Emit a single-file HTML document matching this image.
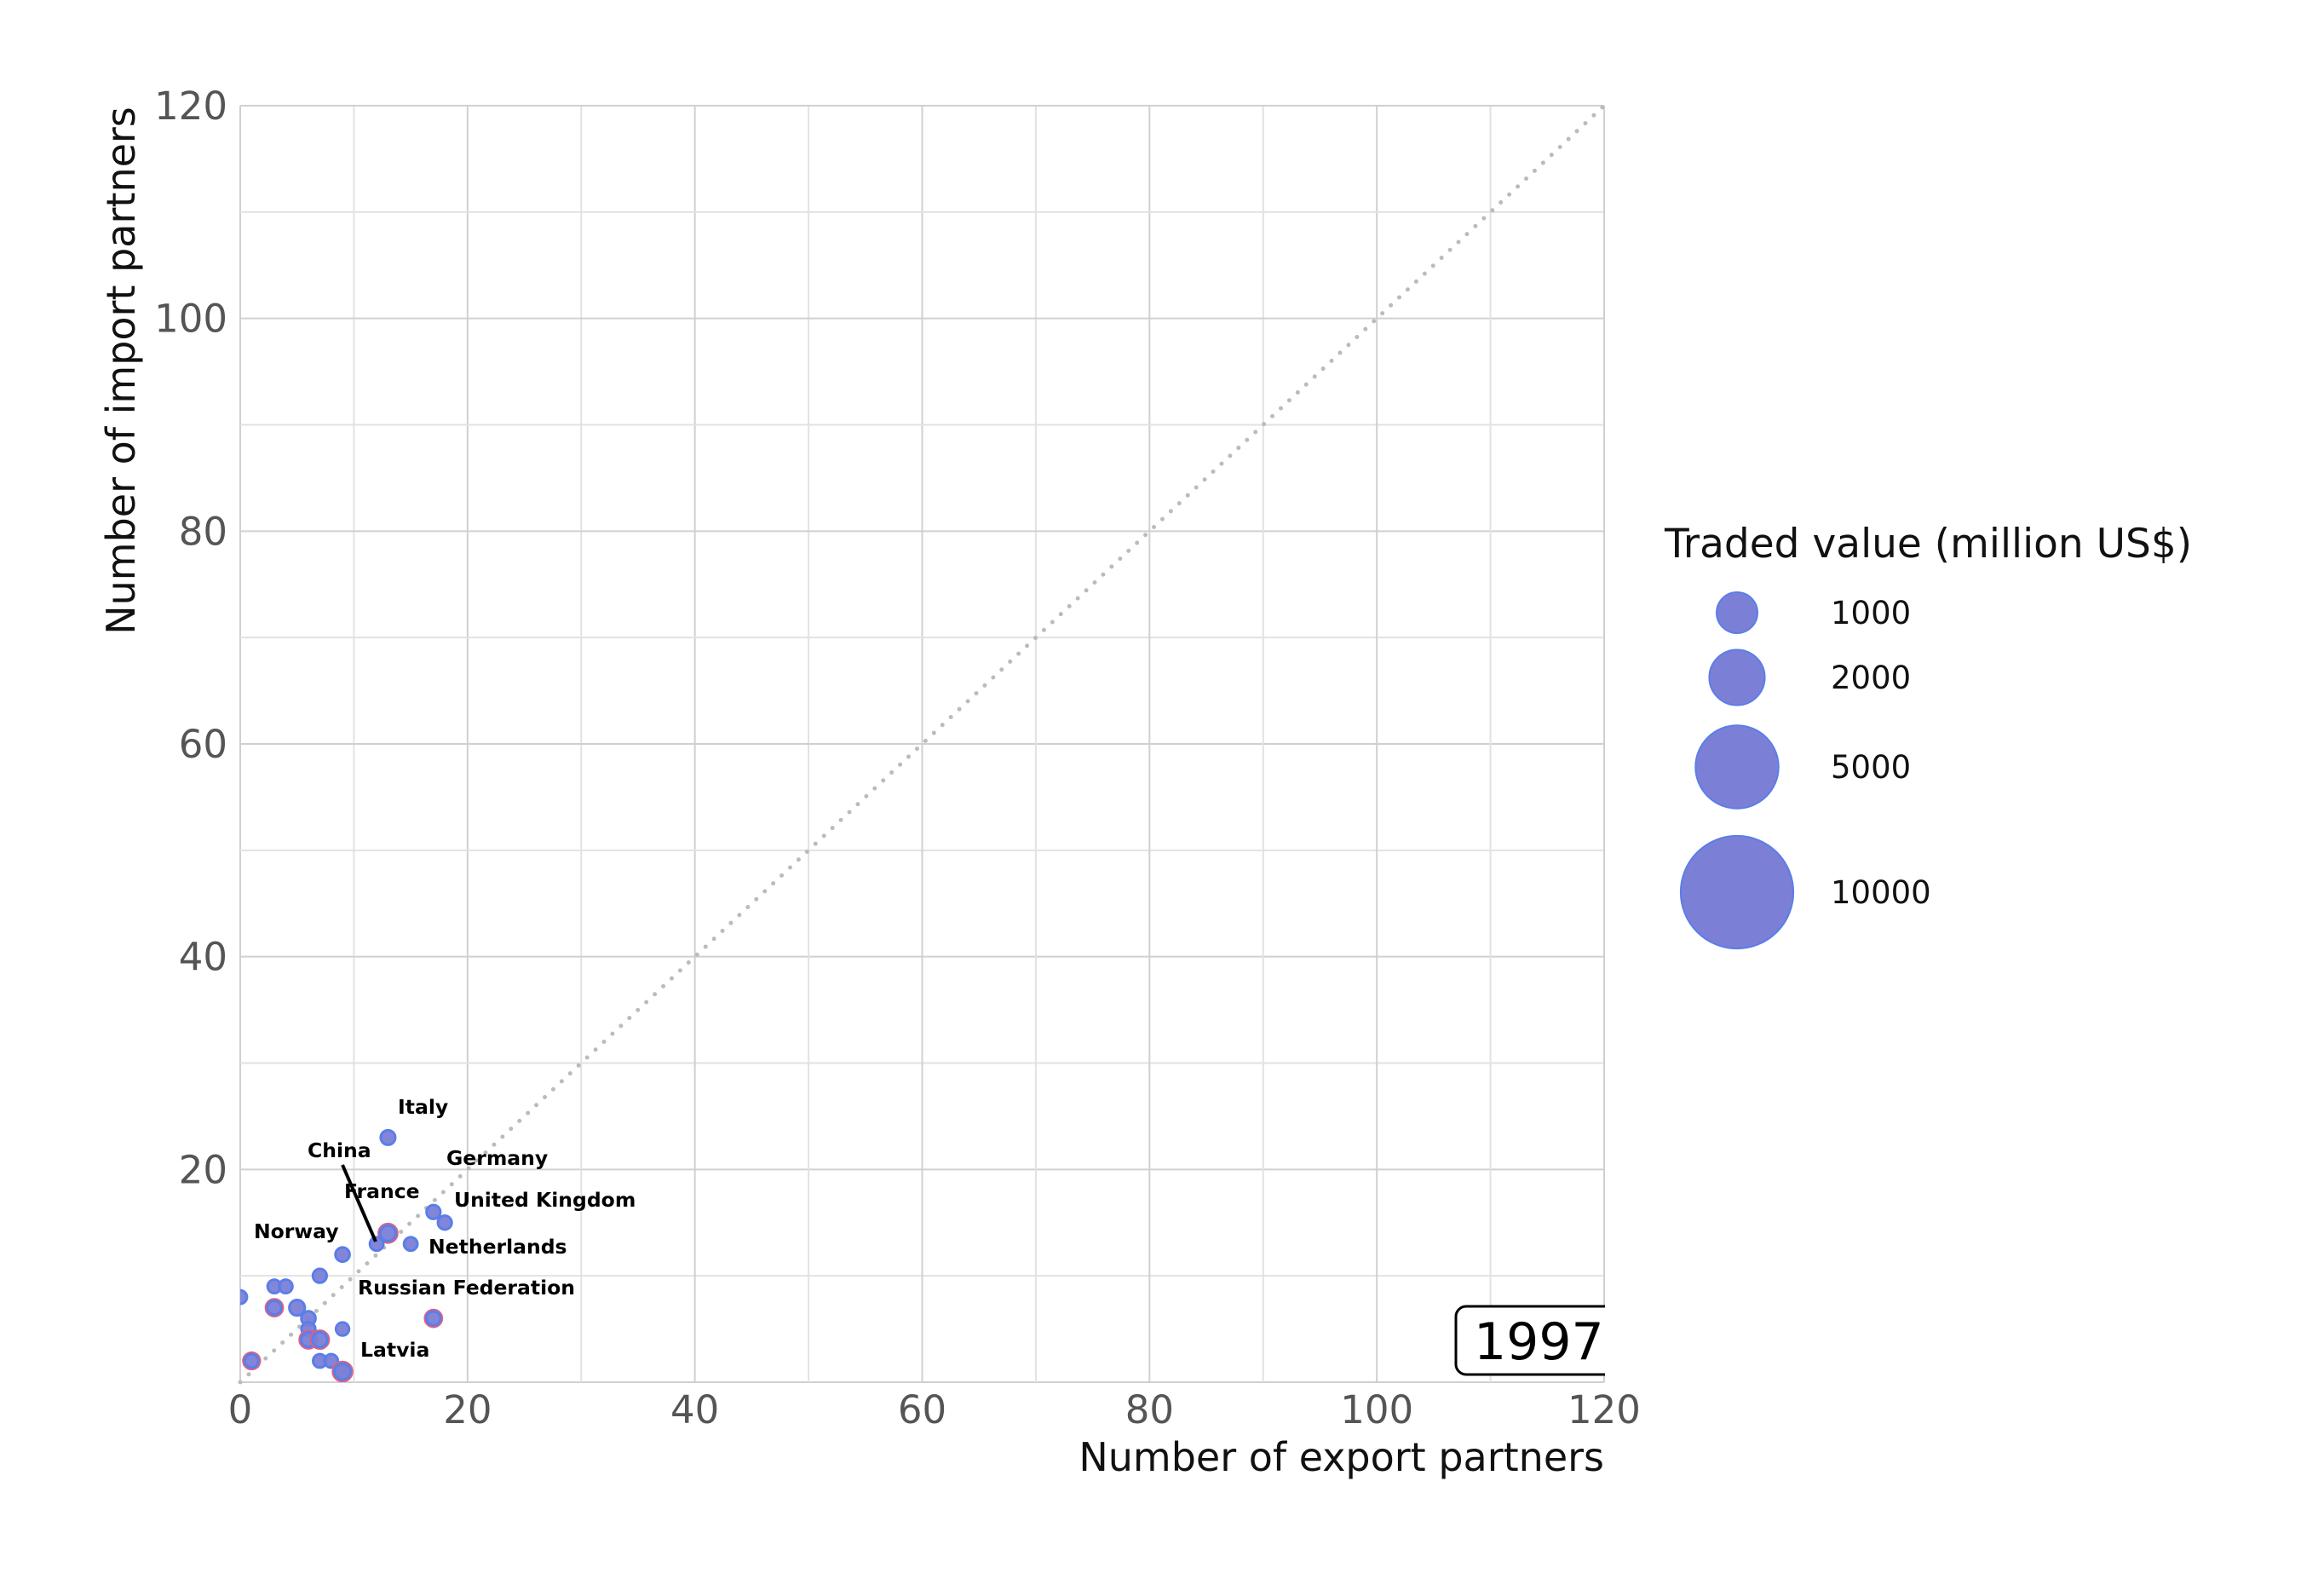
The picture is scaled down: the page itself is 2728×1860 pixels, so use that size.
<!DOCTYPE html>
<html><head><meta charset="utf-8"><style>
html,body{margin:0;padding:0;background:#fff;}
svg{display:block;font-family:"DejaVu Sans","Liberation Sans",sans-serif;}
</style></head><body>
<svg id="chart" width="2728" height="1860" viewBox="0 0 2728 1860" xmlns="http://www.w3.org/2000/svg">
<g id="grid"></g>
<line id="diag" stroke="#bbbbbb" stroke-width="5" stroke-dasharray="0 13.6" stroke-linecap="round"/>
<clipPath id="pc"><rect x="282" y="124" width="1601" height="1498"/></clipPath>
<g id="points" clip-path="url(#pc)"></g>
<g id="labels" font-weight="bold" font-size="23.5" fill="#000"></g>
<g id="ticks" fill="#555" font-size="45"></g>
<text x="1883" y="1726" text-anchor="end" font-size="46" fill="#111">Number of export partners</text>
<text transform="translate(158,435) rotate(-90)" text-anchor="middle" font-size="46" fill="#111">Number of import partners</text>
<g>
<clipPath id="cp"><rect x="0" y="0" width="1884" height="1860"/></clipPath>
<rect clip-path="url(#cp)" x="1709" y="1533" width="220" height="80" rx="12" fill="#fff" stroke="#000" stroke-width="3"/>
<text x="1730" y="1595" font-size="60" fill="#000">1997</text>
</g>
<g id="legend">
<text x="1954" y="654" font-size="47" fill="#111">Traded value (million US$)</text>
</g>
</svg>
<script>
const legendValues = [1000, 2000, 5000, 10000];
const countries = ["","","Italy","Germany","United Kingdom","France","China","Netherlands","Norway","","","","","","","","","","","Russian Federation","","","","Latvia"];
const exportPartners = [0,1,13,17,18,13,12,15,9,7,3,4,3,5,6,6,6,7,9,17,7,8,9,9];
const importPartners = [8,2,23,16,15,14,13,13,12,10,9,9,7,7,6,5,4,4,5,6,2,2,1,1];
const tradedValue = [80,80,95,85,85,110,80,80,90,85,80,80,85,110,90,85,95,100,75,85,80,80,120,120];
const redRing = [0,1,0,0,0,1,0,0,0,0,0,0,1,0,0,0,1,1,0,1,0,0,1,1];
const xTicks = [0,20,40,60,80,100,120];
const yTicks = [20,40,60,80,100,120];

const NS="http://www.w3.org/2000/svg";
const L=282,R=1883,T=124,B=1622;
const xs=v=>L+(R-L)*v/120, ys=v=>B-(B-T)*v/120;
const rs=v=>24*Math.pow(v/1000,0.44);
function mk(tag,attrs,parent){const e=document.createElementNS(NS,tag);for(const k in attrs)e.setAttribute(k,attrs[k]);parent.appendChild(e);return e;}
const grid=document.getElementById('grid');
for(let v=0;v<=120;v+=10){
  const major=v%20===0;
  const gx=mk('line',{x1:xs(v),x2:xs(v),y1:T,y2:B,stroke:major?'#d0d0d0':'#e2e2e2','stroke-width':2},grid);
  
  
  const gy=mk('line',{x1:L,x2:R,y1:ys(v),y2:ys(v),stroke:major?'#d0d0d0':'#e2e2e2','stroke-width':2},grid);
  
  
}
const d=document.getElementById('diag');
d.setAttribute('x1',xs(0));d.setAttribute('y1',ys(0));d.setAttribute('x2',xs(120));d.setAttribute('y2',ys(120));
const ticks=document.getElementById('ticks');
xTicks.forEach(v=>{const t=mk('text',{x:xs(v),y:1670,'text-anchor':'middle'},ticks);t.textContent=v;
  
  });
yTicks.forEach(v=>{const t=mk('text',{x:267,y:ys(v)+16,'text-anchor':'end'},ticks);t.textContent=v;
  
  });
const pts=document.getElementById('points');
exportPartners.forEach((xv,i)=>{
  const r=rs(tradedValue[i]);
  if(redRing[i]){
    const o=mk('circle',{cx:xs(xv),cy:ys(importPartners[i]),r:r+2,fill:'none',stroke:'#e06080','stroke-width':2.5},pts);
    
    
  }
  const c=mk('circle',{cx:xs(xv),cy:ys(importPartners[i]),r:r,fill:'#7b80d6','fill-opacity':0.95,stroke:'#5a7ee8','stroke-width':3},pts);
  
  
});
const labels=document.getElementById('labels');
const labelPos={"Italy":[467,1307],"China":[361,1358],"Germany":[524,1367],"France":[404,1406],"United Kingdom":[533,1416],"Norway":[298,1453],"Netherlands":[503,1471],"Russian Federation":[420,1519],"Latvia":[423,1592]};
const ln=mk('line',{x1:402,y1:1367,x2:441,y2:1457,stroke:'#000','stroke-width':4},labels);


for(const k in labelPos){const t=mk('text',{x:labelPos[k][0],y:labelPos[k][1]},labels);t.textContent=k;
  
  }
const leg=document.getElementById('legend');
const legY=[719,795,900,1047];
legendValues.forEach((v,i)=>{
  const c=mk('circle',{cx:2039,cy:legY[i],r:rs(v),fill:'#7b80d6',stroke:'#5a7ee8','stroke-width':2},leg);
  
  
  const t=mk('text',{x:2149,y:legY[i]+13,'font-size':37,fill:'#111'},leg);t.textContent=v;
  
  
});
</script>
</body></html>
